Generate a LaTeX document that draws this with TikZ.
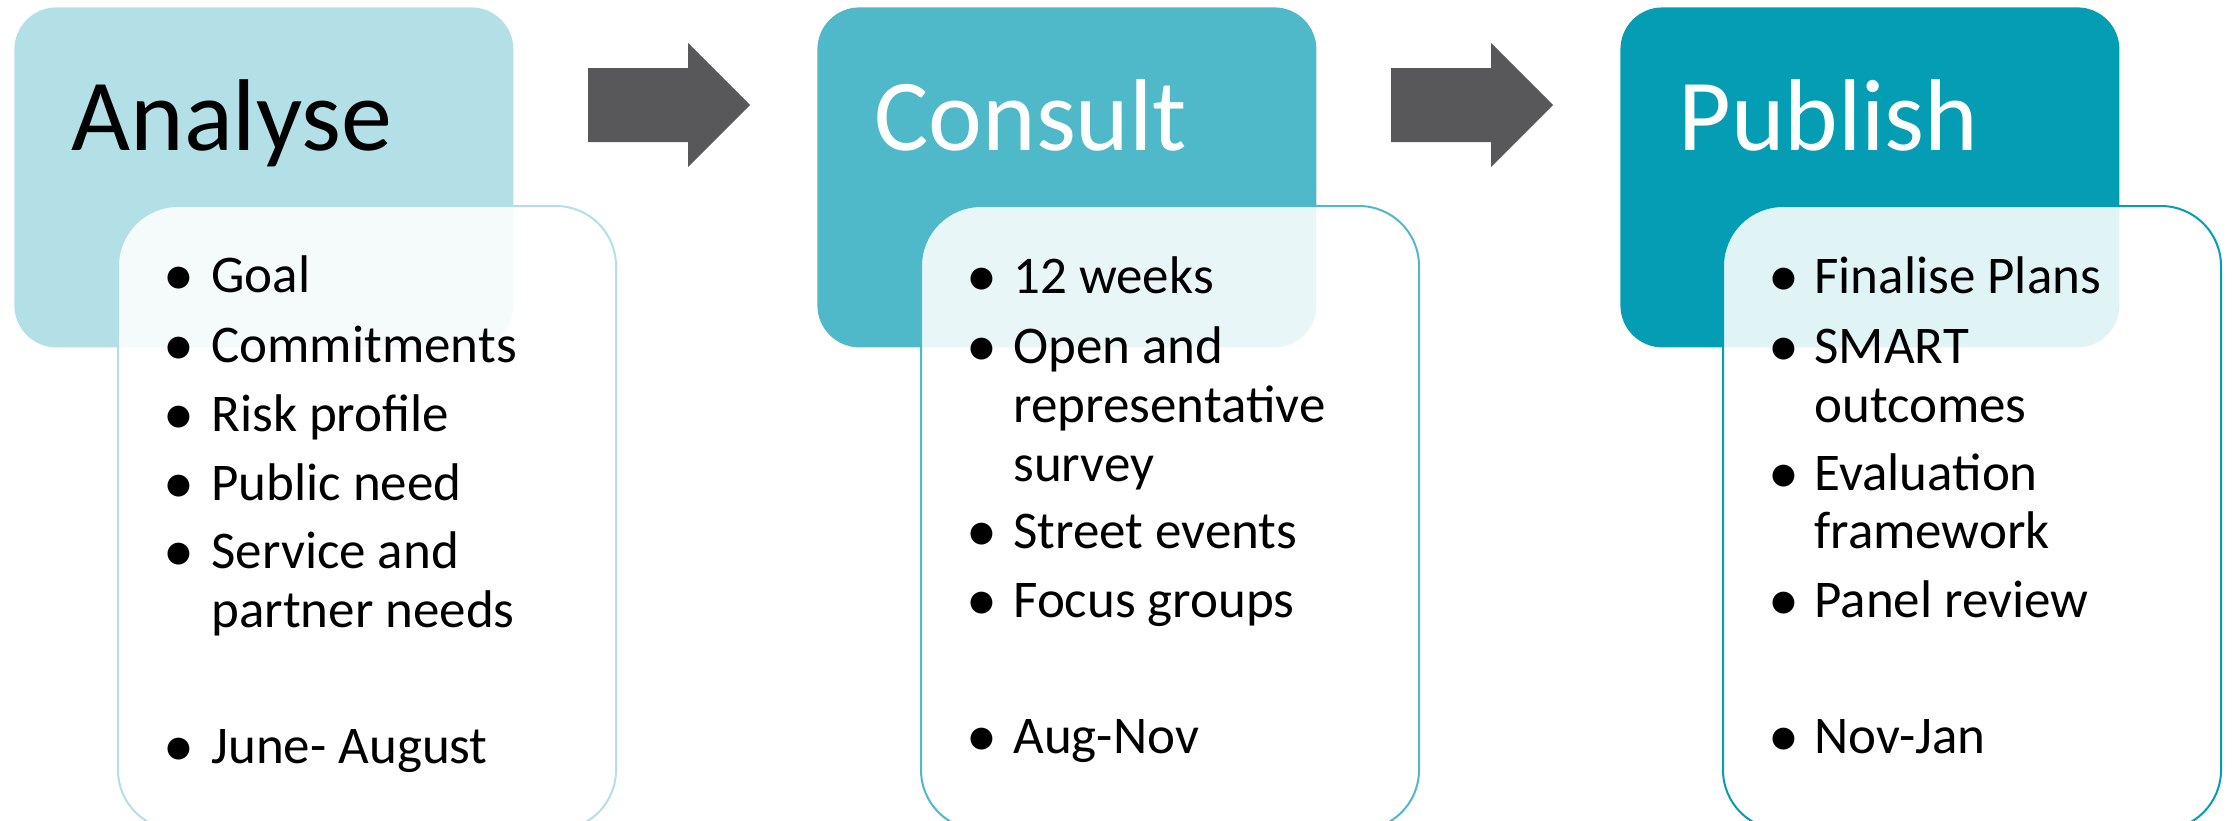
\documentclass[tikz,border=0pt]{standalone}
\usepackage{fontspec}
\setmainfont{Carlito}
\usetikzlibrary{positioning}

\definecolor{tealA}{HTML}{B2E0E6}
\definecolor{tealB}{HTML}{4FB9C9}
\definecolor{tealC}{HTML}{059DB3}
\definecolor{arrowgrey}{HTML}{58585A}

\tikzset{
  head/.style={rectangle, rounded corners=21pt, anchor=north west, minimum width=249.5pt, minimum height=170pt, inner sep=0pt},
  card/.style={rectangle, draw, line width=1pt, rounded corners=30pt, fill=white, fill opacity=0.88, draw opacity=1, anchor=north west, minimum width=249pt, minimum height=312pt, inner sep=0pt},
  title/.style={anchor=base west, font=\fontsize{51}{51}\selectfont, inner sep=0pt},
  item/.style={anchor=base west, font=\fontsize{26.5}{26.5}\selectfont, inner sep=0pt},
  dot/.style={anchor=base west, font=\fontsize{31}{31}\selectfont, inner sep=0pt},
  blockarrow/.style={fill=arrowgrey}
}

\begin{document}
\begin{tikzpicture}[x=0.5pt, y=-0.5pt]
    \useasboundingbox (0,0) rectangle (2233,820);

    % Analyse
    \node[head, fill=tealA] (analyse) at (14,7) {};
    \node[card, draw=tealA] (analyseCard) at (117,205) {};
    \node[title] (analyseTitle) at (71,150) {Analyse};
    \foreach \y/\b/\t [count=\i] in {292/1/Goal, 362/1/Commitments, 431/1/Risk profile, 500/1/Public need,
        568/1/Service and, 627/0/partner needs, 763/1/June- August}{
        \node[item] (analyse-\i) at (211,\y) {\t};
        \ifnum\b=1 \node[dot] (analyse-dot-\i) at (163,\y+3) {•}; \fi
    }

    % Consult
    \node[head, fill=tealB] (consult) at (817,7) {};
    \node[card, draw=tealB] (consultCard) at (920,205) {};
    \node[title, text=white] (consultTitle) at (874,150) {Consult};
    \foreach \y/\b/\t [count=\i] in {293/1/12 weeks, 363/1/Open and, 422/0/representative, 481/0/survey,
        548/1/Street events, 617/1/Focus groups, 753/1/Aug-Nov}{
        \node[item] (consult-\i) at (1013,\y) {\t};
        \ifnum\b=1 \node[dot] (consult-dot-\i) at (966,\y+3) {•}; \fi
    }

    % Publish
    \node[head, fill=tealC] (publish) at (1620,7) {};
    \node[card, draw=tealC] (publishCard) at (1722,205) {};
    \node[title, text=white] (publishTitle) at (1678,150) {Publish};
    \foreach \y/\b/\t [count=\i] in {293/1/Finalise Plans, 363/1/SMART, 422/0/outcomes, 490/1/Evaluation,
        548/0/framework, 617/1/Panel review, 753/1/Nov-Jan}{
        \node[item] (publish-\i) at (1814,\y) {\t};
        \ifnum\b=1 \node[dot] (publish-dot-\i) at (1768,\y+3) {•}; \fi
    }

    % block arrows between the stages
    \foreach \dx in {0,803}{
        \fill[blockarrow, xshift=\dx*0.5pt] (588,68) -- (688,68) -- (688,43) -- (750,105)
            -- (688,167) -- (688,142) -- (588,142) -- cycle;
    }
\end{tikzpicture}
\end{document}
